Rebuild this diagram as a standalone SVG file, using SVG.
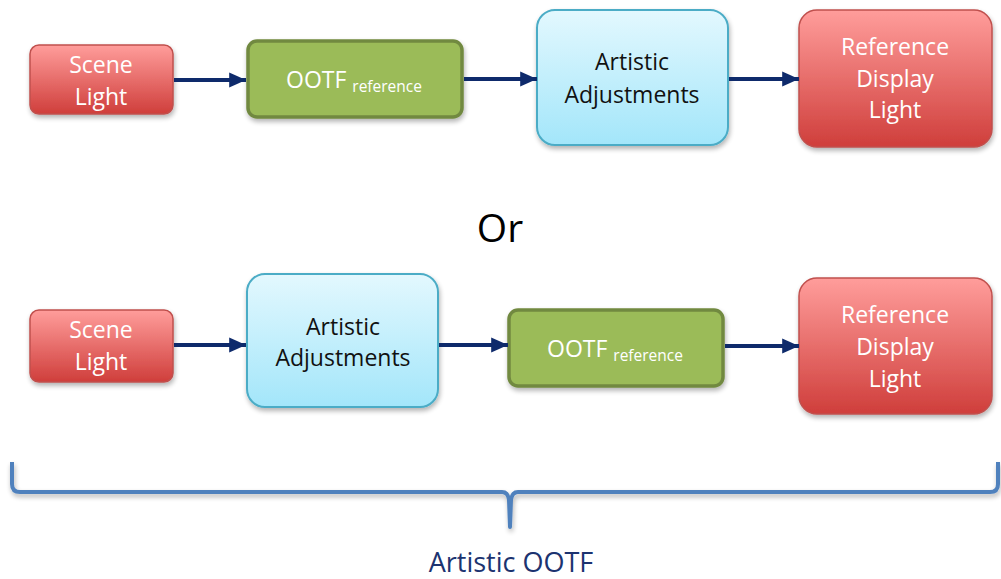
<svg xmlns="http://www.w3.org/2000/svg" width="1001" height="579" viewBox="0 0 1001 579">
<defs>
<linearGradient id="gRed" x1="0" y1="0" x2="0" y2="1">
<stop offset="0" stop-color="#FF9D9B"/>
<stop offset="1" stop-color="#CF3E3B"/>
</linearGradient>
<linearGradient id="gBlue" x1="0" y1="0" x2="0" y2="1">
<stop offset="0" stop-color="#E3F8FE"/>
<stop offset="1" stop-color="#A3E6FA"/>
</linearGradient>
<filter id="sh" x="-10%" y="-10%" width="125%" height="130%">
<feGaussianBlur in="SourceAlpha" stdDeviation="2.5"/>
<feOffset dx="1" dy="3" result="b"/>
<feComponentTransfer><feFuncA type="linear" slope="0.3"/></feComponentTransfer>
<feMerge><feMergeNode/><feMergeNode in="SourceGraphic"/></feMerge>
</filter>
<marker id="ah" viewBox="0 0 10 10" refX="10" refY="5" markerWidth="4.2" markerHeight="3.8" markerUnits="strokeWidth" orient="auto" preserveAspectRatio="none">
<path d="M0,0 L10,5 L0,10 z" fill="#0E2A6B"/>
</marker>
</defs>
<style>
.red{fill:url(#gRed);stroke:#C0504D;stroke-width:1.5;filter:url(#sh)}
.blue{fill:url(#gBlue);stroke:#4BACC6;stroke-width:2;filter:url(#sh)}
.green{fill:#9BBB59;stroke:#71893F;stroke-width:3.5;filter:url(#sh)}
.t{font-family:"Open Sans","Noto Sans",sans-serif;font-size:23px;text-anchor:middle}
.w{fill:#FFFFFF}
.k{fill:#111111}
.sub{font-size:15.5px}
.conn line{stroke:#0E2A6B;stroke-width:4;marker-end:url(#ah)}
</style>
<rect width="1001" height="579" fill="#FFFFFF"/>

<g id="top-scene-light">
<rect class="red" x="30" y="45" width="143" height="69" rx="9"/>
<text class="t w" x="101" y="73">Scene</text>
<text class="t w" x="101" y="105">Light</text>
</g>
<g id="top-ootf">
<rect class="green" x="248" y="41" width="214" height="76" rx="9"/>
<text class="t w" x="354" y="88">OOTF <tspan class="sub" dy="4">reference</tspan></text>
</g>
<g id="top-artistic">
<rect class="blue" x="537" y="10" width="191" height="135" rx="18"/>
<text class="t k" x="632" y="70">Artistic</text>
<text class="t k" x="632" y="103">Adjustments</text>
</g>
<g id="top-display">
<rect class="red" x="799" y="10" width="193" height="137" rx="18"/>
<text class="t w" x="895" y="55">Reference</text>
<text class="t w" x="895" y="87">Display</text>
<text class="t w" x="895" y="118">Light</text>
</g>

<g id="or">
<text x="500" y="242" font-family="'Open Sans','Noto Sans',sans-serif" font-size="39" text-anchor="middle" fill="#000000">Or</text>
</g>

<g id="bot-scene-light">
<rect class="red" x="30" y="310" width="143" height="72" rx="9"/>
<text class="t w" x="101" y="338">Scene</text>
<text class="t w" x="101" y="370">Light</text>
</g>
<g id="bot-artistic">
<rect class="blue" x="247" y="274" width="191" height="133" rx="18"/>
<text class="t k" x="343" y="335">Artistic</text>
<text class="t k" x="343" y="366">Adjustments</text>
</g>
<g id="bot-ootf">
<rect class="green" x="509" y="310" width="214" height="76" rx="9"/>
<text class="t w" x="615" y="357">OOTF <tspan class="sub" dy="4">reference</tspan></text>
</g>
<g id="bot-display">
<rect class="red" x="799" y="278" width="193" height="136" rx="18"/>
<text class="t w" x="895" y="323">Reference</text>
<text class="t w" x="895" y="355">Display</text>
<text class="t w" x="895" y="387">Light</text>
</g>

<g class="conn" id="connectors">
<line x1="174" y1="80" x2="246" y2="80"/>
<line x1="464" y1="79" x2="537" y2="79"/>
<line x1="729" y1="79" x2="799" y2="79"/>
<line x1="174" y1="345" x2="246" y2="345"/>
<line x1="439" y1="345" x2="508" y2="345"/>
<line x1="725" y1="346" x2="799" y2="346"/>
</g>

<g id="brace">
<path d="M12,462 L12,484 Q12,492 20,492 L502,492 Q508,492 509,500 L510,527 L511,500 Q512,492 518,492 L990,492 Q998,492 998,484 L998,462" fill="none" stroke="#4F81BD" stroke-width="4" stroke-linejoin="round" filter="url(#sh)"/>
<text x="511" y="572" font-family="'Open Sans','Noto Sans',sans-serif" font-size="27" text-anchor="middle" fill="#1C3370">Artistic OOTF</text>
</g>
</svg>
